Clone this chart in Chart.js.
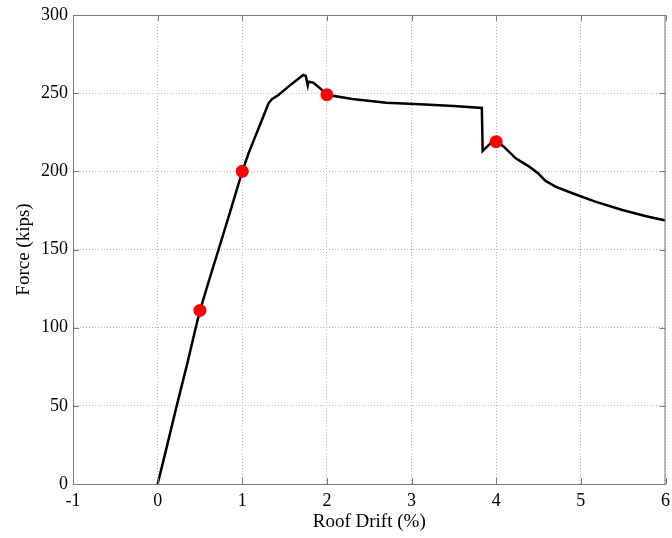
<!DOCTYPE html>
<html>
<head>
<meta charset="utf-8">
<script src="https://cdn.jsdelivr.net/npm/chart.js@4"></script>
<style>
  html, body { margin: 0; padding: 0; background: #fff; }
  #wrap { width: 672px; height: 538px; }
</style>
</head>
<body>
<div id="wrap"><canvas id="chart" width="672" height="538"></canvas></div>
<script>
// pushover curve (roof drift % vs base shear kips)
const driftPct = [0, 0.1, 0.225, 0.35, 0.45, 0.5, 0.6, 0.72, 0.85, 1.0, 1.074, 1.153, 1.232, 1.31, 1.349, 1.427,
  1.545, 1.644, 1.72, 1.75, 1.773, 1.78, 1.84, 1.92, 2.0, 2.3, 2.7, 3.1, 3.5, 3.83, 3.84, 3.94, 4.0, 4.09, 4.23,
  4.39, 4.49, 4.58, 4.70, 4.90, 5.17, 5.49, 5.76, 6.0];
const forceKips = [0, 22, 50, 77, 100, 111, 129, 150, 173, 200, 211.5, 222.2, 232.8, 243.5, 246.1, 248.8,
  254.2, 258.4, 261.6, 261, 255.2, 257.3, 256.7, 253.1, 249, 246.3, 243.9, 242.9, 241.8, 240.5, 213, 218.3, 219.5,
  215.8, 208.3, 203, 199, 194, 190.2, 186, 180.6, 175.3, 171.4, 168.6];

// highlighted performance points
const markDrift = [0.5, 1, 2, 4];
const markForce = [111, 200, 249, 219];

const xTicks = [-1, 0, 1, 2, 3, 4, 5, 6];
const yTicks = [0, 50, 100, 150, 200, 250, 300];

const FONT = "'Liberation Serif', 'Times New Roman', serif";
const AXIS_GRAY = "#7a7a7a";

// MATLAB-style box + inward ticks on all 4 sides
const boxPlugin = {
  id: "box",
  afterDraw(c) {
    const { ctx, chartArea: a, scales } = c;
    ctx.save();
    ctx.strokeStyle = AXIS_GRAY;
    ctx.lineWidth = 1;
    ctx.strokeRect(a.left + 0.5, a.top + 0.5, a.right - a.left - 1, a.bottom - a.top);
    const len = 6;
    ctx.beginPath();
    xTicks.forEach(v => {
      const px = Math.round(scales.x.getPixelForValue(v)) + 0.5;
      ctx.moveTo(px, a.bottom); ctx.lineTo(px, a.bottom - len);
      ctx.moveTo(px, a.top); ctx.lineTo(px, a.top + len);
    });
    yTicks.forEach(v => {
      const py = Math.round(scales.y.getPixelForValue(v)) + 0.5;
      ctx.moveTo(a.left, py); ctx.lineTo(a.left + len, py);
      ctx.moveTo(a.right, py); ctx.lineTo(a.right - len, py);
    });
    ctx.stroke();
    ctx.restore();
  }
};

new Chart(document.getElementById("chart"), {
  type: "line",
  data: {
    datasets: [
      {
        label: "Points",
        data: markDrift.map((x, i) => ({ x, y: markForce[i] })),
        showLine: false,
        pointRadius: 6.5,
        pointBackgroundColor: "#ff0000",
        pointBorderWidth: 0,
        order: 0
      },
      {
        label: "Pushover",
        data: driftPct.map((x, i) => ({ x, y: forceKips[i] })),
        borderColor: "#000",
        borderWidth: 2.5,
        pointRadius: 0,
        tension: 0,
        fill: false,
        order: 1
      }
    ]
  },
  options: {
    responsive: false,
    animation: false,
    events: [],
    layout: { padding: { top: 15, right: 4, left: 0, bottom: 0 } },
    plugins: { legend: { display: false }, tooltip: { enabled: false } },
    scales: {
      x: {
        type: "linear",
        min: -1, max: 6,
        afterFit: s => { s.height = 54; s.paddingLeft = 0; s.paddingRight = 0; },
        afterBuildTicks: s => { s.ticks = xTicks.map(v => ({ value: v })); },
        ticks: { color: "#000", font: { family: FONT, size: 18 }, padding: 6, maxRotation: 0 },
        grid: { color: "#b4b4b4", lineWidth: 1, drawTicks: false },
        border: { color: AXIS_GRAY, width: 1, dash: [1, 2] },
        title: { display: true, text: "Roof Drift (%)", color: "#000", font: { family: FONT, size: 19 }, padding: { top: 0, bottom: 5 } }
      },
      y: {
        min: 0, max: 300,
        afterFit: s => { s.width = 73; s.paddingTop = 0; s.paddingBottom = 0; },
        afterBuildTicks: s => { s.ticks = yTicks.map(v => ({ value: v })); },
        ticks: { color: "#000", font: { family: FONT, size: 18 }, padding: 5 },
        grid: { color: "#b4b4b4", lineWidth: 1, drawTicks: false },
        border: { color: AXIS_GRAY, width: 1, dash: [1, 2] },
        title: { display: true, text: "Force (kips)", color: "#000", font: { family: FONT, size: 19 }, padding: { top: 13, bottom: 0 } }
      }
    }
  },
  plugins: [boxPlugin]
});
</script>
</body>
</html>
